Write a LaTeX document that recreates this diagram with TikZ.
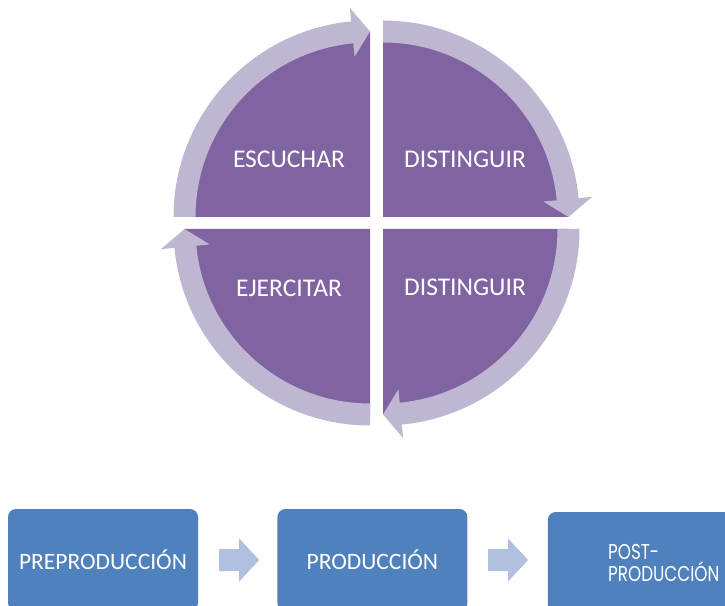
\documentclass[tikz,border=0pt]{standalone}
\usepackage{fontspec}
\usepackage{graphicx}
\setmainfont{Carlito}
\newfontfamily\gothicFont{Poppins}
\usetikzlibrary{positioning}
\definecolor{quadPurple}{RGB}{128,100,162}
\definecolor{ringLilac}{RGB}{191,182,209}
\definecolor{boxBlue}{RGB}{79,129,189}
\definecolor{arrowBlue}{RGB}{176,192,222}
\newcommand{\cycleSegment}[3]{%%
  %% Quarter of the pie with its ring; #2 is where the ring starts, #3 the tip.
  \pgfmathsetmacro{\baseAngle}{#3+\headAngle}
  \begin{scope}[shift={(#1)}]
    \fill[quadStyle] (0,0) -- (#2:\pieRadius)
    arc[start angle=#2,end angle=#3,radius=\pieRadius] -- cycle;
    %% Ring with its arrow head.  Must be drawn last.
    \fill[ringStyle] (#2:\outerRadius)
    arc[start angle=#2,end angle=\baseAngle,radius=\outerRadius]
    -- (\baseAngle:\wingOuter) -- (#3:\midRadius) -- (\baseAngle:\wingInner)
    -- (\baseAngle:\innerRadius)
    arc[start angle=\baseAngle,end angle=#2,radius=\innerRadius] -- cycle;
  \end{scope}
}
\newcommand{\blockArrow}[1]{%%
  \fill[arrowStyle] (#1) ++(-20,11) -- ++(20,0) -- ++(0,10.5) --
  ++(20,-21.5) -- ++(-20,-21.5) -- ++(0,10.5) -- ++(-20,0) -- cycle;
}
\newcommand{\narrowText}[1]{\scalebox{0.78}[1]{#1}}
\begin{document}
\begin{tikzpicture}[%%
  x=1pt,y=1pt,%%
  quadStyle/.style={fill=quadPurple},%%
  ringStyle/.style={fill=ringLilac},%%
  labelStyle/.style={text=white,inner sep=0pt,text height=16.4pt,text depth=0pt,%%
    font=\fontsize{25.5}{30}\selectfont},%%
  boxStyle/.style={fill=boxBlue,rounded corners=8pt,minimum width=190pt,%%
    minimum height=102pt,inner sep=0pt,text=white,font=\fontsize{23.5}{27}\selectfont},%%
  arrowStyle/.style={fill=arrowBlue}%%
]
\clip (0,0) rectangle (725,605);
%%
%%
\pgfmathsetmacro{\pieRadius}{186}
\pgfmathsetmacro{\midRadius}{185.5}
\pgfmathsetmacro{\outerRadius}{196.5}
\pgfmathsetmacro{\innerRadius}{174.5}
\pgfmathsetmacro{\wingOuter}{210}
\pgfmathsetmacro{\wingInner}{161}
\pgfmathsetmacro{\headAngle}{5.5}
\coordinate (tl) at (370,388);
\coordinate (tr) at (383,388);
\coordinate (br) at (383,376);
\coordinate (bl) at (370,376);
%%
%%
%% The cycle.
\cycleSegment{tl}{180}{90}
\cycleSegment{tr}{90}{0}
\cycleSegment{br}{0}{-90}
\cycleSegment{bl}{-90}{-180}
\node[labelStyle] (escuchar) at (289,446) {ESCUCHAR};
\node[labelStyle] (distUp) at (465,446) {DISTINGUIR};
\node[labelStyle] (ejercitar) at (289,317) {EJERCITAR};
\node[labelStyle] (distDown) at (465,318) {DISTINGUIR};
%%
%%
%% The three stages.
\node[boxStyle] (pre) at (103,45) {PREPRODUCCIÓN};
\node[boxStyle,right=79pt of pre] (pro) {PRODUCCIÓN};
\node[boxStyle,right=80pt of pro,minimum width=232pt,align=left,yshift=-3pt,%%
  font=\gothicFont\fontsize{21.5}{21.5}\selectfont] (post)
  {\narrowText{POST-}\\\narrowText{PRODUCCIÓN}};
\coordinate[right=41pt of pre] (gapOne);
\coordinate[right=40.5pt of pro] (gapTwo);
\blockArrow{gapOne}
\blockArrow{gapTwo}
\end{tikzpicture}
\end{document}
